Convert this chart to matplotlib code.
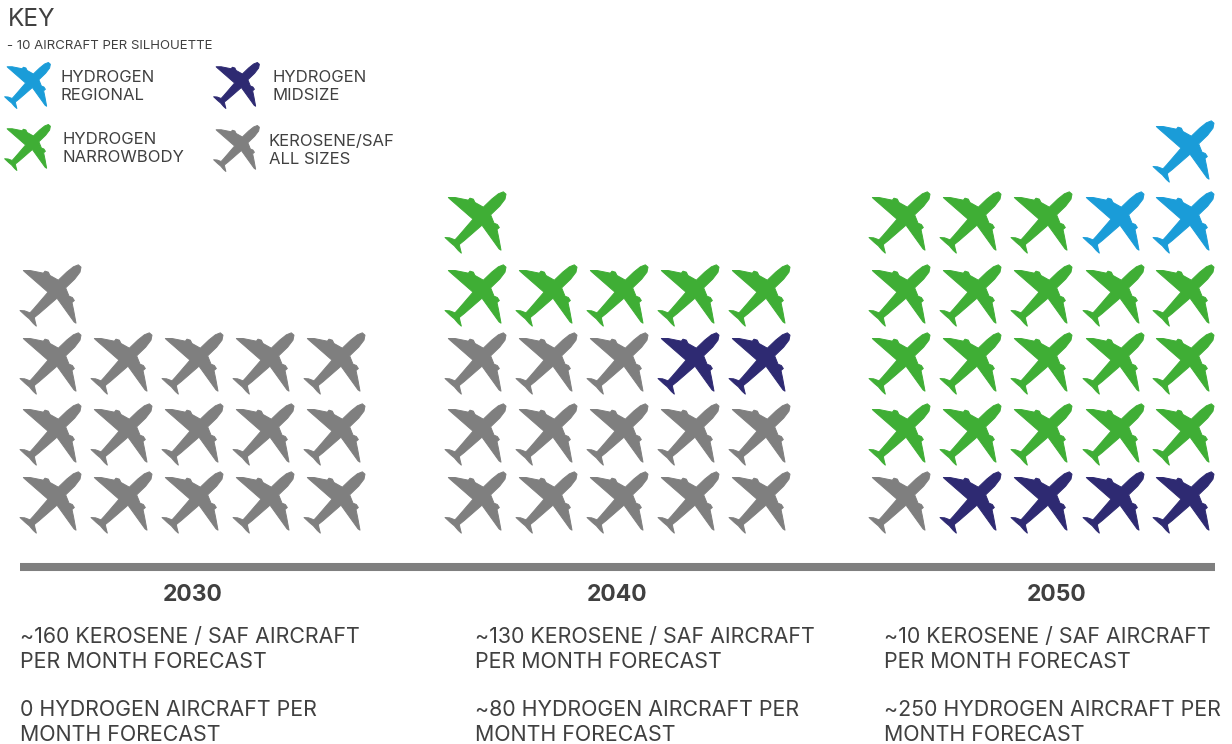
import numpy as np
import matplotlib
matplotlib.use("Agg")
import matplotlib.pyplot as plt
from matplotlib.path import Path

plt.rcParams["font.family"] = ["Inter", "DejaVu Sans"]

# =====================================================
# DATA
# =====================================================

YEARS = ["2030", "2040", "2050"]

# rows of silhouettes, bottom row first (K kerosene, M midsize, N narrowbody, R regional)
ROWS_2030 = ["KKKKK", "KKKKK", "KKKKK", "K...."]
ROWS_2040 = ["KKKKK", "KKKKK", "KKKMM", "NNNNN", "N...."]
ROWS_2050 = ["KMMMM", "NNNNN", "NNNNN", "NNNNN", "NNNRR", "....R"]

FORECAST_KEROSENE = ["~160", "~130", "~10"]
FORECAST_HYDROGEN = ["0", "~80", "~250"]

# =====================================================
# STYLE / LAYOUT
# =====================================================

COLORS = {"K": "#7f7f7f", "M": "#2e2a72", "N": "#3fae35", "R": "#1a9cd8"}
TEXT = "#404040"

COL_X = [[50, 121, 192, 263, 334],
         [475, 546, 617, 688, 759],
         [899, 970, 1041, 1113, 1183]]
ROW_Y = [502, 434, 363, 295, 222, 151]
YEAR_X = [193, 617, 1057]
NOTE_X = [20, 475, 884]
NOTE_SIZE = 15.4
KEY_SIZE = 12.0

# plane outline, pixels of a 3x crop, y down
PLANE = np.array([
    (213, 35), (210, 50), (194, 71), (167, 97), (177, 122), (187, 126), (193, 135),
    (186, 141), (191, 165), (198, 203), (192, 199), (141, 128), (88, 174), (73, 186), (75, 196),
    (79, 212), (70, 204), (58, 190), (46, 180), (30, 165), (44, 166), (60, 172),
    (71, 160), (114, 110), (44, 49), (40, 45), (60, 45), (100, 53), (105, 47),
    (115, 50), (120, 60), (145, 74), (170, 50), (190, 34), (205, 28), (213, 35),
], dtype=float)
PLANE = (PLANE - [121.5, 120]) / 3.0
PLANE[:, 1] *= -1
marker = Path(PLANE, closed=True)
R = np.abs(PLANE).max()


def planes(ax, xs, ys, code, scale=1.0):
    size = (2 * R * scale * 72 / 100) ** 2
    ax.scatter(xs, ys, marker=marker, s=size, c=COLORS[code], edgecolors=COLORS[code], linewidths=0.7)


fig = plt.figure(figsize=(12.32, 7.44), dpi=100)
ax = fig.add_axes([0, 0, 1, 1])
ax.set_xlim(0, 1232)
ax.set_ylim(744, 0)
ax.axis("off")

# Silhouettes
for rows, cols in zip([ROWS_2030, ROWS_2040, ROWS_2050], COL_X):
    for r, row in enumerate(rows):
        for c, code in enumerate(row):
            if code != ".":
                planes(ax, [cols[c]], [ROW_Y[r]], code)

# Axis bar
ax.plot([20, 1215], [567, 567], color="#7f7f7f", lw=5.8, solid_capstyle="butt")

# Year blocks
for i, year in enumerate(YEARS):
    ax.text(YEAR_X[i], 595, year, ha="center", va="center", fontsize=16.5, fontweight="bold", color=TEXT)
    ax.text(NOTE_X[i], 637, FORECAST_KEROSENE[i] + " KEROSENE / SAF AIRCRAFT", va="center", fontsize=NOTE_SIZE, color=TEXT)
    ax.text(NOTE_X[i], 662, "PER MONTH FORECAST", va="center", fontsize=NOTE_SIZE, color=TEXT)
    ax.text(NOTE_X[i], 710, FORECAST_HYDROGEN[i] + " HYDROGEN AIRCRAFT PER", va="center", fontsize=NOTE_SIZE, color=TEXT)
    ax.text(NOTE_X[i], 735, "MONTH FORECAST", va="center", fontsize=NOTE_SIZE, color=TEXT)

# Key
ax.text(8, 20, "KEY", va="center", fontsize=17.6, color=TEXT)
ax.text(7, 46, "- 10 AIRCRAFT PER SILHOUETTE", va="center", fontsize=9.5, color=TEXT)

planes(ax, [27], [85], "R", 0.75)
planes(ax, [236], [85], "M", 0.75)
planes(ax, [27], [147], "N", 0.75)
planes(ax, [236], [148], "K", 0.75)

ax.text(60, 78, "HYDROGEN", va="center", fontsize=KEY_SIZE, color=TEXT)
ax.text(60, 96, "REGIONAL", va="center", fontsize=KEY_SIZE, color=TEXT)
ax.text(272, 78, "HYDROGEN", va="center", fontsize=KEY_SIZE, color=TEXT)
ax.text(272, 96, "MIDSIZE", va="center", fontsize=KEY_SIZE, color=TEXT)
ax.text(63, 140, "HYDROGEN", va="center", fontsize=KEY_SIZE, color=TEXT)
ax.text(63, 158, "NARROWBODY", va="center", fontsize=KEY_SIZE, color=TEXT)
ax.text(269, 141, "KEROSENE/SAF", va="center", fontsize=KEY_SIZE, color=TEXT)
ax.text(269, 159, "ALL SIZES", va="center", fontsize=KEY_SIZE, color=TEXT)

fig.savefig("out.png", dpi=100)
